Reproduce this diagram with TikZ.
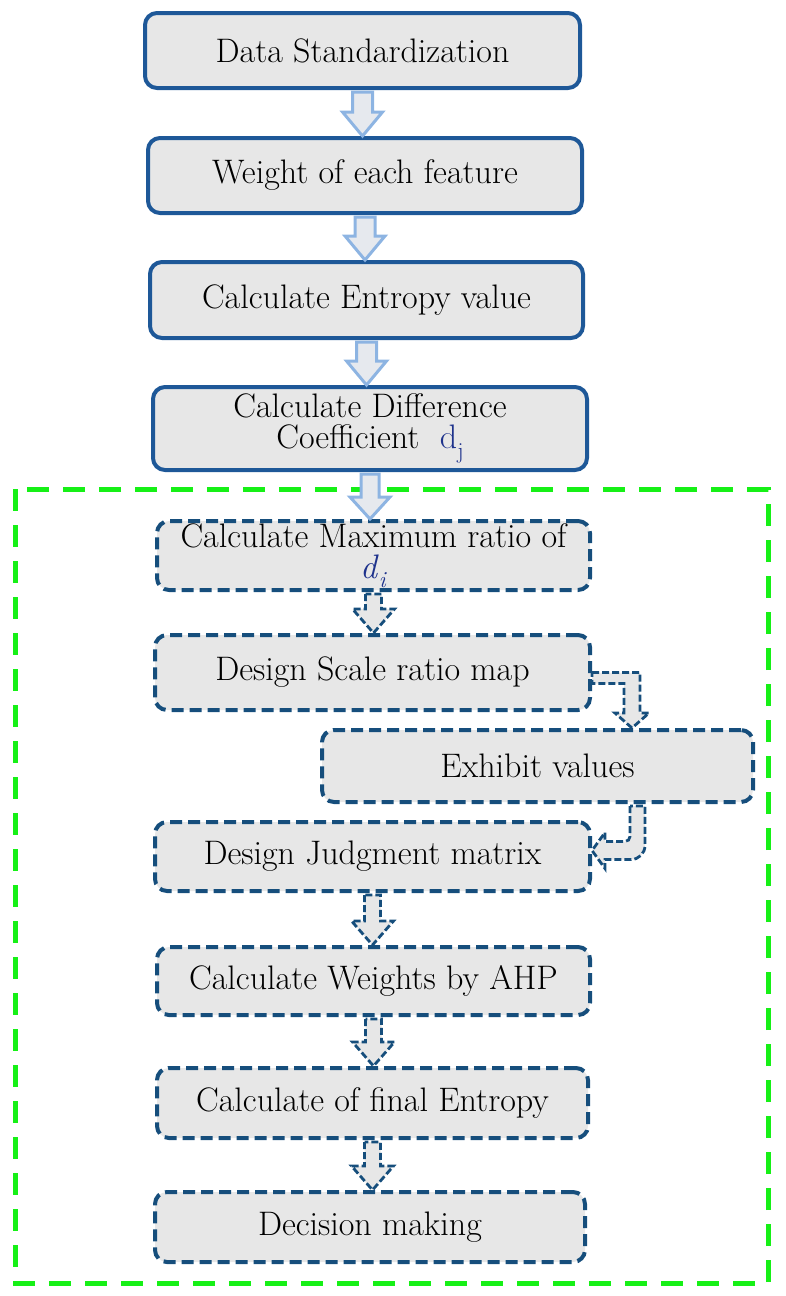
\documentclass[tikz,border=0pt]{standalone}
\usepackage{fontspec}
\usetikzlibrary{calc}
\definecolor{solidblue}{RGB}{30,88,152}
\definecolor{dashblue}{RGB}{22,78,124}
\definecolor{boxfill}{RGB}{231,231,231}
\definecolor{arrowblue}{RGB}{141,180,226}
\definecolor{arrowfill}{RGB}{230,233,238}
\definecolor{grn}{RGB}{22,240,22}
\definecolor{dblue}{RGB}{30,50,140}
\newcommand{\subsc}[1]{\raisebox{-0.28em}{\fontsize{23}{23}\selectfont #1}}
\newcommand{\varr}[6]{%
  \path[#1] let \p1=(#2.south), \p2=(#3.north) in
   (\x1-#4pt,\y1-2pt) -- (\x1-#4pt,\y2+#6pt) -- (\x1-#5pt,\y2+#6pt) -- (\x1,\y2)
   -- (\x1+#5pt,\y2+#6pt) -- (\x1+#4pt,\y2+#6pt) -- (\x1+#4pt,\y1-2pt) -- cycle;}
\begin{document}
\begin{tikzpicture}[x=1pt,y=-1pt,
  txt/.style={font=\fontsize{34}{38}\selectfont, align=center, inner sep=0pt, text=black},
  solidbox/.style={txt, draw=solidblue, line width=4pt, fill=boxfill, rounded corners=12pt},
  dashbox/.style={txt, draw=dashblue, line width=4pt, dash pattern=on 12pt off 6pt, fill=boxfill, rounded corners=12pt},
  blockarr/.style={draw=arrowblue, line width=3pt, fill=arrowfill},
  dasharr/.style={draw=dashblue, line width=2.8pt, dash pattern=on 7pt off 3pt, fill=boxfill},
  grnbox/.style={draw=grn, line width=5pt, dash pattern=on 22pt off 14pt}]
\useasboundingbox (0,0) rectangle (785,1296);
% green dashed frame
\draw[grnbox] (15,489) rectangle (768,1283);
% solid boxes
\node[solidbox, minimum width=435pt, minimum height=75pt] (b1) at (362.5,50.5) {Data Standardization};
\node[solidbox, minimum width=434pt, minimum height=75pt] (b2) at (365,175.5) {Weight of each feature};
\node[solidbox, minimum width=433pt, minimum height=76pt] (b3) at (366.5,300) {Calculate Entropy value};
\node[solidbox, minimum width=434pt, minimum height=83pt] (b4) at (370,428.5) {Calculate Difference\\[-7pt] Coefficient\ \ \textcolor{dblue}{d\subsc{j}}};
% dashed boxes
\node[dashbox, minimum width=433pt, minimum height=69pt] (max) at (373.5,555.5) {Calculate Maximum ratio of\\[-7pt] \textcolor{dblue}{\textit{d}\subsc{\textit{i}}}};
\node[dashbox, minimum width=435pt, minimum height=75pt] (scale) at (372.5,672.5) {Design Scale ratio map};
\node[dashbox, minimum width=431pt, minimum height=72pt] (exhibit) at (537.5,766) {Exhibit values};
\node[dashbox, minimum width=435pt, minimum height=69pt] (judg) at (372.5,856.5) {Design Judgment matrix};
\node[dashbox, minimum width=433pt, minimum height=68pt] (ahp) at (373.5,981) {Calculate Weights by AHP};
\node[dashbox, minimum width=431pt, minimum height=70pt] (final) at (372.5,1103) {Calculate of final Entropy};
\node[dashbox, minimum width=430pt, minimum height=70pt] (dec) at (370,1227) {Decision making};
% solid block arrows
\varr{blockarr}{b1}{b2}{10}{20}{24}
\varr{blockarr}{b2}{b3}{10}{20}{24}
\varr{blockarr}{b3}{b4}{10}{20}{24}
\varr{blockarr}{b4}{max}{9}{20}{22}
% dashed block arrows
\varr{dasharr}{max}{scale}{8}{21}{24}
\varr{dasharr}{judg}{ahp}{8}{21}{24}
\varr{dasharr}{ahp}{final}{8}{21}{24}
\varr{dasharr}{final}{dec}{8}{21}{24}
% elbow arrow: scale -> exhibit
\path[dasharr] let \p1=(scale.east), \p2=(exhibit.north) in
  (\x1,\y1) -- (\x1+48pt,\y1) -- (\x1+48pt,\y2+15pt) -- (\x1+57pt,\y2+15pt) -- (\x1+40pt,\y2)
  -- (\x1+23pt,\y2+15pt) -- (\x1+32pt,\y2+15pt) -- (\x1+32pt,\y1-11pt) -- (\x1,\y1-11pt) -- cycle;
% elbow arrow: exhibit -> judgment
\path[dasharr] let \p1=(exhibit.south), \p2=(judg.east) in
  (\x2+38pt,\y1-2pt) [rounded corners=5pt] -- (\x2+38pt,\y2+15pt) [sharp corners] -- (\x2+13pt,\y2+15pt)
  -- (\x2+13pt,\y2+24pt) -- (\x2,\y2+6pt) -- (\x2+13pt,\y2-12pt) -- (\x2+13pt,\y2-3pt)
  [rounded corners=14pt] -- (\x2+53pt,\y2-3pt) [sharp corners] -- (\x2+53pt,\y1-2pt) -- cycle;
\end{tikzpicture}
\end{document}
